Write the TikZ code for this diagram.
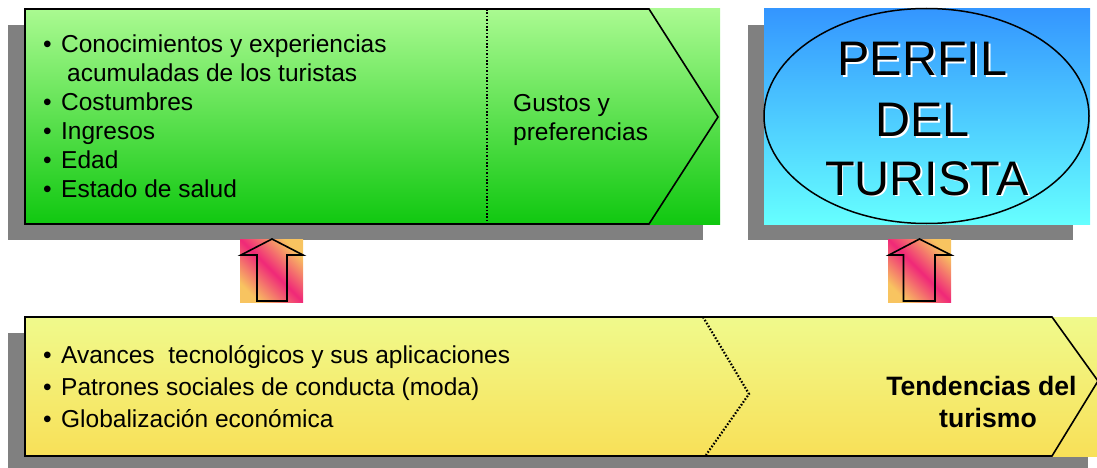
\documentclass[tikz,border=0pt]{standalone}
\usepackage{fontspec}
\setmainfont{Liberation Sans}
\usetikzlibrary{shadings}
\definecolor{shadowgray}{RGB}{128,128,128}
\definecolor{greentop}{RGB}{170,250,145}
\definecolor{greenbot}{RGB}{16,200,16}
\definecolor{bluetop}{RGB}{52,150,255}
\definecolor{bluebot}{RGB}{102,255,255}
\definecolor{yeltop}{RGB}{240,250,140}
\definecolor{yelbot}{RGB}{248,224,88}
\definecolor{apink}{RGB}{240,40,120}
\definecolor{aorange}{RGB}{248,196,96}
\pgfdeclarehorizontalshading{arrowsh}{100bp}{color(0bp)=(aorange); color(25bp)=(aorange); color(50bp)=(apink); color(75bp)=(aorange); color(100bp)=(aorange)}
\tikzset{
  shadowbox/.style={fill=shadowgray},
  outline/.style={draw=black, line width=1.6pt, line join=miter},
  dotline/.style={draw=black, line width=2.2pt, dash pattern=on 1.6pt off 1.8pt, line cap=butt},
  listtxt/.style={anchor=base west, inner sep=0pt, font=\fontsize{24.5}{29}\selectfont},
  boldtxt/.style={anchor=base, inner sep=0pt, font=\fontsize{26.6}{30}\selectfont\bfseries},
  bigtxt/.style={anchor=base, inner sep=0pt, font=\fontsize{48.5}{56}\selectfont},
  uparrow/.style={draw=black, line width=1.6pt, line join=miter},
  arrowsq/.style={shading=arrowsh, shading angle=45},
}
\newcommand{\bul}{\makebox[18pt][l]{•}}
\begin{document}
\begin{tikzpicture}[x=1pt,y=-1pt]
\useasboundingbox (0,0) rectangle (1097,468);
\clip (0,0) rectangle (1097,468);
% shadows
\fill[shadowbox] (8,25) rectangle (703,240);
\fill[shadowbox] (748,25) rectangle (1073,240);
\fill[shadowbox] (8,333) rectangle (1088,475);
% green box
\shade[top color=greentop, bottom color=greenbot] (25,9) rectangle (720,224);
\draw[outline] (25,9) -- (649,9) -- (718,117) -- (649,224) -- (25,224) -- cycle;
\draw[dotline] (487,9) -- (487,224);
\node[listtxt] (l1) at (43,53) {\bul Conocimientos y experiencias};
\node[listtxt] (l2) at (43,81.9) {\hspace{24pt}acumuladas de los turistas};
\node[listtxt] (l3) at (43,110.8) {\bul Costumbres};
\node[listtxt] (l4) at (43,139.7) {\bul Ingresos};
\node[listtxt] (l5) at (43,168.6) {\bul Edad};
\node[listtxt] (l6) at (43,197.5) {\bul Estado de salud};
\node[listtxt] (g1) at (513,111.5) {Gustos y};
\node[listtxt] (g2) at (513,140) {preferencias};
% blue box
\shade[top color=bluetop, bottom color=bluebot] (764,9) rectangle (1090,224);
\draw[black, line width=1.5pt] (926.5,116) ellipse [x radius=162.5, y radius=107.5];
\node[bigtxt, white] (p1s) at (924.3,77.5) {PERFIL};
\node[bigtxt, white] (p2s) at (924.3,138.2) {DEL};
\node[bigtxt, white] (p3s) at (928.8,196.5) {TURISTA};
\node[bigtxt] (p1) at (922.5,76) {PERFIL};
\node[bigtxt] (p2) at (922.5,136.7) {DEL};
\node[bigtxt] (p3) at (927,195) {TURISTA};
% arrows
\fill[arrowsq] (240,239) rectangle (303,302);
\draw[uparrow] (272,239) -- (303,255) -- (287,255) -- (287,301) -- (257,301) -- (257,255) -- (241,255) -- cycle;
\fill[arrowsq] (888,239) rectangle (951,302);
\draw[uparrow] (919.5,239) -- (951,255) -- (935,255) -- (935,301) -- (903.5,301) -- (903.5,255) -- (889,255) -- cycle;
% yellow box
\shade[top color=yeltop, bottom color=yelbot] (25,317) rectangle (1110,456);
\draw[outline] (25,317) -- (1052,317) -- (1098,381) -- (1052,456) -- (25,456) -- cycle;
\draw[dotline] (703,317) -- (749,394) -- (706,455);
\node[listtxt] (b1) at (43,363.3) {\bul Avances\ \ tecnológicos y sus aplicaciones};
\node[listtxt] (b2) at (43,395.5) {\bul Patrones sociales de conducta (moda)};
\node[listtxt] (b3) at (43,427.7) {\bul Globalización económica};
\node[boldtxt] (t1) at (981.5,395) {Tendencias del};
\node[boldtxt] (t2) at (988,427.7) {turismo};
\end{tikzpicture}
\end{document}
